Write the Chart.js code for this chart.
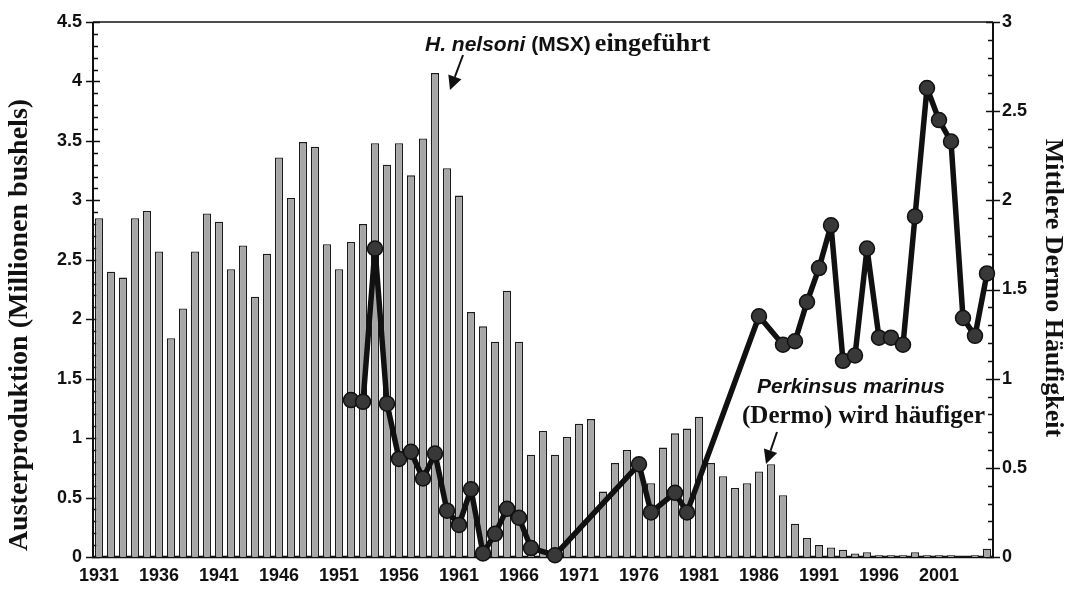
<!DOCTYPE html>
<html><head><meta charset="utf-8">
<script src="https://cdn.jsdelivr.net/npm/chart.js@4.4.1/dist/chart.umd.min.js"></script>
<style>html,body{margin:0;padding:0;background:#fff;}#wrap{width:1072px;height:589px;}</style>
</head><body><div id="wrap"><canvas id="c" width="1072" height="589"></canvas></div>
<script>
const years = [1931,1932,1933,1934,1935,1936,1937,1938,1939,1940,1941,1942,1943,1944,1945,1946,1947,1948,1949,1950,
1951,1952,1953,1954,1955,1956,1957,1958,1959,1960,1961,1962,1963,1964,1965,1966,1967,1968,1969,1970,
1971,1972,1973,1974,1975,1976,1977,1978,1979,1980,1981,1982,1983,1984,1985,1986,1987,1988,1989,1990,
1991,1992,1993,1994,1995,1996,1997,1998,1999,2000,2001,2002,2003,2004,2005];

// Austerproduktion (Millionen bushels), linke Achse
const production = [2.85,2.40,2.35,2.85,2.91,2.57,1.84,2.09,2.57,2.89,2.82,2.42,2.62,2.19,2.55,3.36,3.02,3.49,3.45,2.63,
2.42,2.65,2.80,3.48,3.30,3.48,3.21,3.52,4.07,3.27,3.04,2.06,1.94,1.81,2.24,1.81,0.86,1.06,0.86,1.01,
1.12,1.16,0.55,0.79,0.90,0.82,0.62,0.92,1.04,1.08,1.18,0.79,0.68,0.58,0.62,0.72,0.78,0.52,0.28,0.16,
0.10,0.08,0.06,0.03,0.04,0.015,0.015,0.015,0.04,0.015,0.015,0.015,0,0.015,0.07];

// Mittlere Dermo Häufigkeit, rechte Achse (null = kein Wert)
const dermo = [null,null,null,null,null,null,null,null,null,null,null,null,null,null,null,null,null,null,null,null,
null,0.88,0.87,1.73,0.86,0.55,0.59,0.44,0.58,0.26,0.18,0.38,0.02,0.13,0.27,0.22,0.05,null,0.01,null,
null,null,null,null,null,0.52,0.25,null,0.36,0.25,null,null,null,null,null,1.35,null,1.19,1.21,1.43,
1.62,1.86,1.10,1.13,1.73,1.23,1.23,1.19,1.91,2.63,2.45,2.33,1.34,1.24,1.59];

const leftTicks = [0,0.5,1,1.5,2,2.5,3,3.5,4,4.5];
const rightTicks = [0,0.5,1,1.5,2,2.5,3];

const INK = '#111';

const framePlugin = {
  id: 'frame',
  beforeDatasetsDraw(chart) {
    const {ctx, chartArea: a, scales} = chart;
    ctx.save();
    ctx.strokeStyle = INK;
    ctx.lineWidth = 1.5;
    ctx.beginPath();
    ctx.moveTo(a.left, a.top); ctx.lineTo(a.right, a.top);
    ctx.stroke();
    ctx.lineWidth = 2;
    ctx.beginPath();
    ctx.moveTo(a.left, a.top); ctx.lineTo(a.left, a.bottom);
    ctx.moveTo(a.right, a.top); ctx.lineTo(a.right, a.bottom);
    ctx.stroke();
    ctx.lineWidth = 2.5;
    ctx.beginPath();
    ctx.moveTo(a.left - 1, a.bottom); ctx.lineTo(a.right + 1, a.bottom);
    ctx.stroke();
    ctx.lineWidth = 1.5;
    const y = scales.y, y2 = scales.y2;
    for (let i = 0; i <= 45; i++) {
      const p = Math.round(y.getPixelForValue(i / 10)) + 0.5;
      const major = i % 5 === 0;
      ctx.beginPath();
      ctx.moveTo(a.left - (major ? 7 : 0), p);
      ctx.lineTo(a.left + (major ? 7 : 5), p);
      ctx.stroke();
    }
    for (let i = 0; i <= 30; i++) {
      const p = Math.round(y2.getPixelForValue(i / 10)) + 0.5;
      const major = i % 5 === 0;
      ctx.beginPath();
      ctx.moveTo(a.right + (major ? 7 : 0), p);
      ctx.lineTo(a.right - (major ? 7 : 5), p);
      ctx.stroke();
    }
    ctx.restore();
  },
  afterDraw(chart) {
    const {ctx} = chart;
    ctx.save();
    ctx.fillStyle = INK;
    ctx.strokeStyle = INK;
    ctx.textAlign = 'center';
    ctx.textBaseline = 'middle';
    ctx.save();
    ctx.font = 'bold 28px "Liberation Serif"';
    ctx.translate(20, 325);
    ctx.rotate(-Math.PI / 2);
    ctx.fillText('Austerproduktion (Millionen bushels)', 0, 0);
    ctx.restore();
    ctx.save();
    ctx.font = 'bold 26px "Liberation Serif"';
    ctx.translate(1053, 288);
    ctx.rotate(Math.PI / 2);
    ctx.fillText('Mittlere Dermo Häufigkeit', 0, 0);
    ctx.restore();

    ctx.textAlign = 'left';
    ctx.textBaseline = 'alphabetic';
    let tx = 425, ty = 51;
    ctx.font = 'italic bold 21px "Liberation Sans"';
    ctx.fillText('H. nelsoni', tx, ty);
    tx += ctx.measureText('H. nelsoni').width + 6;
    ctx.font = 'bold 21px "Liberation Sans"';
    ctx.fillText('(MSX)', tx, ty);
    tx += ctx.measureText('(MSX)').width + 4;
    ctx.font = 'bold 26px "Liberation Serif"';
    ctx.fillText('eingeführt', tx, ty);

    ctx.font = 'italic bold 21px "Liberation Sans"';
    ctx.fillText('Perkinsus marinus', 757, 393);
    ctx.font = 'bold 25px "Liberation Serif"';
    ctx.fillText('(Dermo) wird häufiger', 742, 423);

    const arrow = (x1, y1, x2, y2) => {
      const ang = Math.atan2(y2 - y1, x2 - x1);
      const hl = 14, hw = 7;
      const bx = x2 - hl * Math.cos(ang), by = y2 - hl * Math.sin(ang);
      ctx.lineWidth = 2;
      ctx.beginPath(); ctx.moveTo(x1, y1); ctx.lineTo(bx, by); ctx.stroke();
      ctx.beginPath();
      ctx.moveTo(x2, y2);
      ctx.lineTo(bx + hw * Math.sin(ang), by - hw * Math.cos(ang));
      ctx.lineTo(bx - hw * Math.sin(ang), by + hw * Math.cos(ang));
      ctx.closePath(); ctx.fill();
    };
    arrow(463, 55, 450, 90);
    arrow(777, 432, 766, 464);
    ctx.restore();
  }
};

const tickFont = {family: '"Liberation Sans"', size: 18, weight: 'bold'};
const fmt = v => String(+v.toFixed(1));

new Chart(document.getElementById('c'), {
  data: {
    labels: years,
    datasets: [
      {
        type: 'line', label: 'Dermo', data: dermo, yAxisID: 'y2', order: 0,
        spanGaps: true, borderColor: INK, borderWidth: 5.5, tension: 0,
        borderJoinStyle: 'round', borderCapStyle: 'round',
        pointRadius: 7.5, pointBackgroundColor: '#383838', pointBorderColor: INK, pointBorderWidth: 1.5,
        clip: false
      },
      {
        type: 'bar', label: 'Austerproduktion', data: production, yAxisID: 'y', order: 1,
        backgroundColor: '#a6a6a6', borderColor: '#1a1a1a', borderWidth: 1.3,
        barPercentage: 0.68, categoryPercentage: 1.0
      }
    ]
  },
  options: {
    responsive: false, animation: false, devicePixelRatio: 1,
    layout: {padding: {top: 22, left: 0, right: 0, bottom: 0}},
    plugins: {legend: {display: false}, tooltip: {enabled: false}},
    scales: {
      x: {
        type: 'category', offset: true,
        grid: {display: false, drawTicks: false}, border: {display: false},
        ticks: {
          autoSkip: false, maxRotation: 0, minRotation: 0, padding: 8, color: INK, font: tickFont,
          callback: (v, i) => ((years[i] - 1931) % 5 === 0 ? String(years[i]) : '')
        },
        afterFit: s => { s.height = 32; }
      },
      y: {
        position: 'left', min: 0, max: 4.5,
        grid: {display: false, drawTicks: false}, border: {display: false},
        afterBuildTicks: s => { s.ticks = leftTicks.map(v => ({value: v})); },
        ticks: {padding: 11, color: INK, font: tickFont, callback: fmt},
        afterFit: s => { s.width = 93; }
      },
      y2: {
        position: 'right', min: 0, max: 3,
        grid: {display: false, drawTicks: false}, border: {display: false},
        afterBuildTicks: s => { s.ticks = rightTicks.map(v => ({value: v})); },
        ticks: {padding: 9, color: INK, font: tickFont, callback: fmt},
        afterFit: s => { s.width = 79; }
      }
    }
  },
  plugins: [framePlugin]
});
</script>
</body></html>
